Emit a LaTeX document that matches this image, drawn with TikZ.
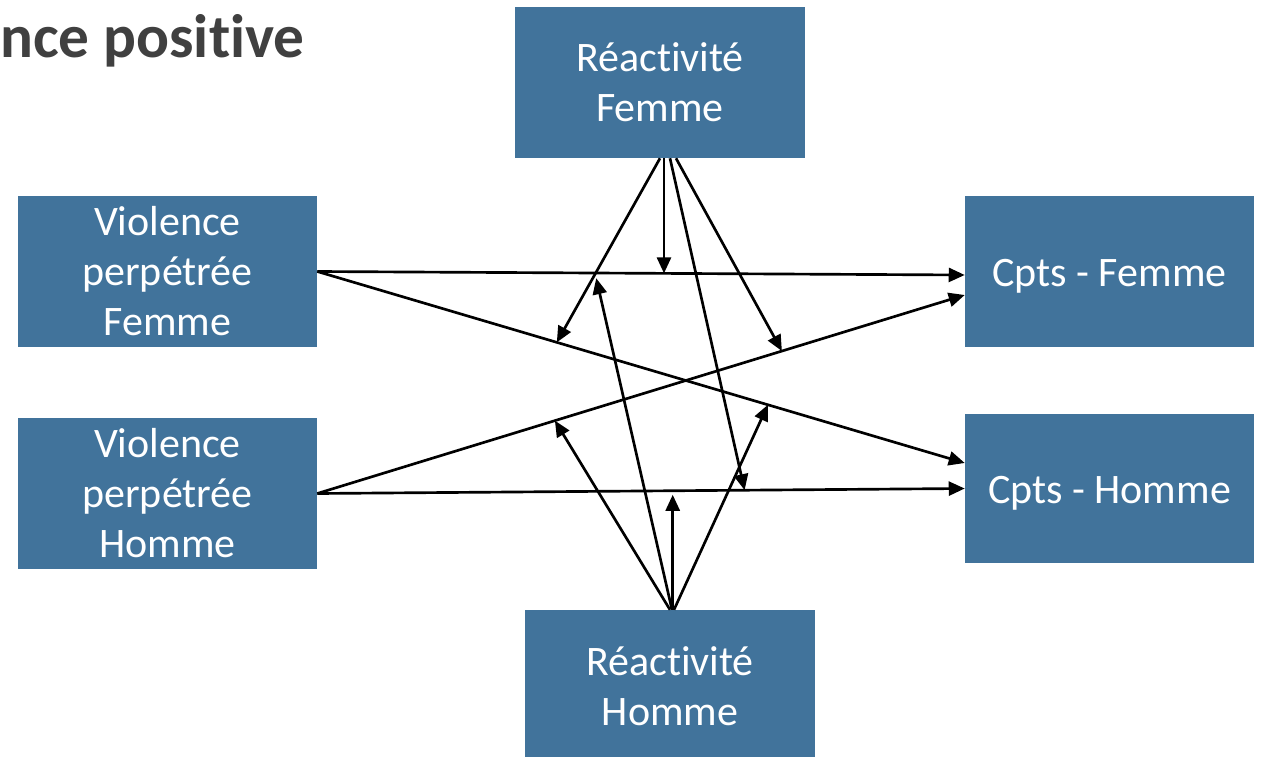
\documentclass[tikz,border=0pt]{standalone}
\usepackage{fontspec}
\setmainfont{Carlito}[Ligatures=NoCommon]
\usetikzlibrary{arrows.meta,calc}
\definecolor{boxblue}{RGB}{65,115,155}
\definecolor{titlegray}{RGB}{64,64,64}
\begin{document}
\begin{tikzpicture}[x=0.75pt,y=-0.75pt,
 box/.style={fill=boxblue, text=white, inner sep=0pt, align=center, font=\fontsize{31.5}{37.5}\selectfont},
 conn/.style={draw=black, line width=2pt, -{Triangle[length=12pt,width=10.5pt]}},
]
\useasboundingbox (0,0) rectangle (1261,757);
\node[anchor=base west, text=titlegray, inner sep=0pt, font=\fontsize{46}{50}\selectfont\bfseries] (title) at (0,57) {nce positive};
\node[box, minimum width=217.5pt, minimum height=113.25pt] (RF) at (660,82.5) {Réactivité\\Femme};
\node[box, minimum width=224.25pt, minimum height=113.25pt] (VPF) at (167.5,271.5) {Violence\\perpétrée\\Femme};
\node[box, minimum width=224.25pt, minimum height=113.25pt] (VPH) at (167.5,493.5) {Violence\\perpétrée\\Homme};
\node[box, minimum width=216.75pt, minimum height=113.25pt, text height=28pt, text depth=6pt] (CF) at (1109.5,271.5) {Cpts - Femme};
\node[box, minimum width=216.75pt, minimum height=111.75pt, text height=28pt, text depth=6pt] (CH) at (1109.5,488.5) {Cpts - Homme};
\node[box, minimum width=217.5pt, minimum height=114.75pt] (RH) at (670,686.5) {Réactivité\\Homme};

\coordinate (CFa) at ($(CF.west)+(0,3.5)$);
\coordinate (CFb) at ($(CF.west)+(0,23.5)$);
\coordinate (CHa) at ($(CH.west)+(0,-25.5)$);
\coordinate (CHb) at ($(CH.west)+(0,0)$);

\draw[conn] (VPF.east) -- (CFa);
\draw[conn] (VPF.east) -- (CHa);
\draw[conn] (VPH.east) -- (CFb);
\draw[conn] (VPH.east) -- (CHb);

\coordinate (m1) at ($(VPF.east)!0.5355!(CFa)$);
\coordinate (m2) at ($(VPF.east)!0.370!(CHa)$);
\coordinate (m3) at ($(VPH.east)!0.7176!(CFb)$);
\coordinate (m4) at ($(VPH.east)!0.66!(CHb)$);
\coordinate (n1) at ($(VPH.east)!0.549!(CHb)$);
\coordinate (n2) at ($(VPH.east)!0.367!(CFb)$);
\coordinate (n3) at ($(VPF.east)!0.696!(CHa)$);
\coordinate (n4) at ($(VPF.east)!0.429!(CFa)$);

\coordinate (rf1) at ($(RF.south)+(0,0)$);
\coordinate (rf2) at ($(RF.south)+(10,0)$);
\coordinate (rf3) at ($(RF.south)+(16,0)$);
\coordinate (rh1) at ($(RH.north)+(0,0)$);
\coordinate (rh2) at ($(RH.north)+(2,0)$);
\coordinate (rh3) at ($(RH.north)+(4,0)$);

\draw[conn] (m1 |- RF.south) -- (m1);
\draw[conn] (rf1) -- (m2);
\draw[conn] (rf3) -- (m3);
\draw[conn] (rf2) -- (m4);

\draw[conn, shorten >=3pt] (n1 |- RH.north) -- (n1);
\draw[conn] (rh1) -- (n2);
\draw[conn] (rh3) -- (n3);
\draw[conn, shorten >=4pt] (rh2) -- (n4);
\end{tikzpicture}
\end{document}
